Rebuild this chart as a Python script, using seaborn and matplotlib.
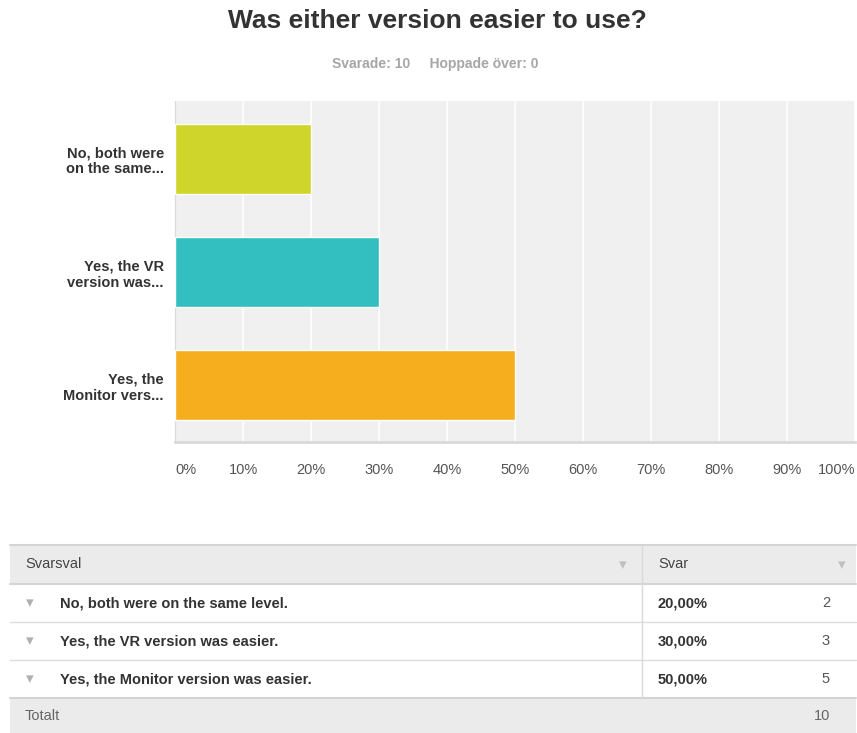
import pandas as pd
import matplotlib.pyplot as plt
import seaborn as sns
from matplotlib.patches import Rectangle

# survey answers
answers = ["No, both were on the same level.",
           "Yes, the VR version was easier.",
           "Yes, the Monitor version was easier."]
short_labels = ["No, both were\non the same...",
                "Yes, the VR\nversion was...",
                "Yes, the\nMonitor vers..."]
percent = [20, 30, 50]
counts = [2, 3, 5]
bar_colors = ["#cfd52b", "#33bec0", "#f6ae1f"]
tick_vals = [0, 10, 20, 30, 40, 50, 60, 70, 80, 90, 100]
total = 10
skipped = 0

sns.set_style("white")
plt.rcParams['font.family'] = ['Liberation Sans', 'DejaVu Sans']

W, H = 857, 733
fig = plt.figure(figsize=(W / 100, H / 100), dpi=100)

def px(x0, y0, x1, y1):
    return [x0 / W, 1 - y1 / H, (x1 - x0) / W, (y1 - y0) / H]

fig.text(437 / W, 1 - 21 / H, "Was either version easier to use?", ha="center", va="center",
         fontsize=19, fontweight="bold", color="#333333")
fig.text(435 / W, 1 - 64 / H, f"Svarade: {total}     Hoppade över: {skipped}", ha="center", va="center",
         fontsize=10, fontweight="bold", color="#a6a6a6")

# bar chart
ax = fig.add_axes(px(175, 101, 855, 442))
df = pd.DataFrame({"label": short_labels, "pct": percent})
sns.barplot(data=df, x="pct", y="label", hue="label", palette=bar_colors, legend=False,
            width=0.62, saturation=1, ax=ax, zorder=3)
ax.set_facecolor("#f0f0f0")
ax.set_xlim(0, 100)
ax.set_ylim(2.5, -0.51)
ax.set_xticks(tick_vals)
ax.set_xticklabels([f"{t}%" for t in tick_vals])
ax.xaxis.grid(True, color="white", linewidth=1.2, zorder=0)
ax.set_axisbelow(True)
ax.set_xlabel("")
ax.set_ylabel("")
ax.tick_params(axis="x", length=0, pad=15, labelsize=10.5, labelcolor="#555555")
ax.tick_params(axis="y", length=0, pad=8, labelsize=10.5, labelcolor="#333333")
for t in ax.get_yticklabels():
    t.set_fontweight("bold")
    t.set_multialignment("right")
xl = ax.get_xticklabels()
xl[0].set_ha("left")
xl[-1].set_ha("right")
for s in ["top", "right"]:
    ax.spines[s].set_visible(False)
ax.spines["left"].set_color("#d9d9d9")
ax.spines["bottom"].set_color("#d9d9d9")
ax.spines["bottom"].set_linewidth(2)

# table below
tb = fig.add_axes([0, 0, 1, 1], zorder=-1)
tb.set_xlim(0, W)
tb.set_ylim(H, 0)
tb.axis("off")

left, right, mid = 10, 856, 642
tb.add_patch(Rectangle((left, 545), right - left, 39, color="#ebebeb", lw=0))
tb.add_patch(Rectangle((left, 698), right - left, 35, color="#ebebeb", lw=0))
tb.plot([left, right], [545, 545], color="#d4d4d4", lw=1.5)
tb.plot([left, right], [584, 584], color="#d4d4d4", lw=1.5)
tb.plot([left, right], [622, 622], color="#dddddd", lw=1)
tb.plot([left, right], [660, 660], color="#dddddd", lw=1)
tb.plot([left, right], [698, 698], color="#d4d4d4", lw=1.5)
tb.plot([mid, mid], [545, 698], color="#d9d9d9", lw=1)

tb.text(25, 564, "Svarsval", va="center", fontsize=10.5, color="#444444")
tb.text(658, 564, "Svar", va="center", fontsize=10.5, color="#444444")
tb.text(623, 565, "▾", va="center", ha="center", fontsize=11, color="#c0c0c0", family="DejaVu Sans")
tb.text(842, 565, "▾", va="center", ha="center", fontsize=11, color="#c0c0c0", family="DejaVu Sans")

for i, (a, p, c) in enumerate(zip(answers, percent, counts)):
    y = 603 + i * 38
    tb.text(30, y, "▾", va="center", ha="center", fontsize=11, color="#b0b0b0", family="DejaVu Sans")
    tb.text(60, y, a, va="center", fontsize=10.5, fontweight="bold", color="#333333")
    tb.text(658, y, f"{p},00%", va="center", fontsize=10.5, fontweight="bold", color="#333333")
    tb.text(830, y, str(c), va="center", ha="right", fontsize=10.5, color="#555555")

tb.text(25, 716, "Totalt", va="center", fontsize=10.5, color="#666666")
tb.text(830, 716, str(total), va="center", ha="right", fontsize=10.5, color="#666666")

fig.savefig("out.png", dpi=100)
